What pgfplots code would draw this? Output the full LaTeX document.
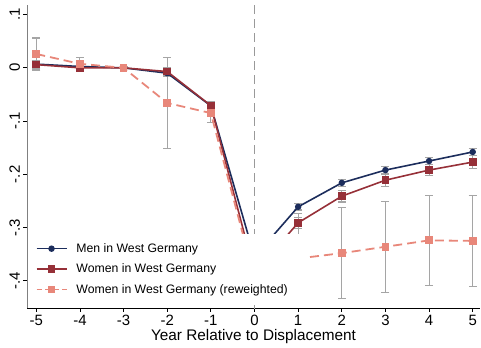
\documentclass[border=0pt]{standalone}
\usepackage{fontspec}
\setmainfont{Liberation Sans}
\usepackage{pgfplots}
\pgfplotsset{compat=1.18}
\definecolor{menc}{RGB}{28,45,92}
\definecolor{womc}{RGB}{150,48,56}
\definecolor{rwc}{RGB}{232,135,122}
\definecolor{errc}{RGB}{165,165,165}
\pgfplotsset{
    cibar/.style={forget plot, errc, only marks, mark=*, mark size=0pt,
        error bars/.cd, y dir=both, y explicit, error mark=|,
        error bar style={draw=errc, line width=1.1pt, solid},
        error mark options={draw=errc, mark size=4bp, line width=1.1pt, solid}},
}

\begin{document}
\begin{tikzpicture}
\begin{axis}[
    scale only axis, width=453bp, height=303bp,
    xmin=-5.213, xmax=5.167, ymin=-0.451, ymax=0.118,
    axis lines=left, axis line style={-},
    x axis line style={black, line width=0.9pt},
    y axis line style={gray, line width=0.9pt},
    tick align=outside, major tick length=3.5bp,
    tick style={black, line width=0.8pt},
    xtick={-5,...,5}, xticklabels={-5,-4,-3,-2,-1,0,1,2,3,4,5},
    ytick={-0.4,-0.3,-0.2,-0.1,0,0.1}, yticklabels={-.4,-.3,-.2,-.1,0,.1},
    ticklabel style={font=\fontsize{15}{17}\selectfont},
    yticklabel style={rotate=90, anchor=south},
    xlabel={Year Relative to Displacement},
    xlabel style={font=\fontsize{15.4}{18}\selectfont, at={(rel axis cs:0.5,0)}, anchor=center, yshift=-29bp},
    legend cell align=left,
    legend style={draw=none, fill=white, at={(0.012,0.2465)}, anchor=north west,
        font=\fontsize{12.3}{14}\selectfont, row sep=6bp, inner xsep=3bp, inner ysep=8bp},
    legend image code/.code={\draw[mark repeat=2,mark phase=2,#1] plot coordinates {(4bp,0bp) (19bp,0bp) (34bp,0bp)};
        \path (41bp,0bp);},
]
% confidence intervals
\addplot[cibar] coordinates {(-5,0.007) +- (0,0.007) (-4,0.0025) +- (0,0.005) (-3,0) +- (0,0.002) (-2,-0.010) +- (0,0.006)
    (-1,-0.0714) +- (0,0.005) (0,-0.355) +- (0,0.006) (1,-0.261) +- (0,0.006) (2,-0.216) +- (0,0.006)
    (3,-0.192) +- (0,0.006) (4,-0.175) +- (0,0.006) (5,-0.158) +- (0,0.007)};
\addplot[cibar] coordinates {(-5,0.006) +- (0,0.008) (-4,0.0) +- (0,0.007) (-3,0) +- (0,0.002) (-2,-0.007) +- (0,0.008)
    (-1,-0.071) +- (0,0.007) (0,-0.385) +- (0,0.01) (1,-0.291) +- (0,0.01) (2,-0.241) +- (0,0.011)
    (3,-0.211) +- (0,0.011) (4,-0.192) +- (0,0.011) (5,-0.177) +- (0,0.012)};
\addplot[cibar] coordinates {(-5,0.026) +- (0,0.03) (-4,0.0075) +- (0,0.012) (-3,0) +- (0,0.002) (-2,-0.066) +- (0,0.085)
    (-1,-0.085) +- (0,0.017) (0,-0.395) +- (0,0.08) (1,-0.358) +- (0,0.085) (2,-0.348) +- (0,0.085)
    (3,-0.336) +- (0,0.0855) (4,-0.324) +- (0,0.085) (5,-0.325) +- (0,0.085)};
% displacement year
\addplot[forget plot, gray!80, line width=0.9pt, dash pattern=on 9bp off 5bp] coordinates {(0,-0.451) (0,0.118)};

\addplot[menc, line width=1.6pt, mark=*, mark size=2.4bp] coordinates {
    (-5,0.007) (-4,0.0025) (-3,0) (-2,-0.010) (-1,-0.0714) (0,-0.355)
    (1,-0.261) (2,-0.216) (3,-0.192) (4,-0.175) (5,-0.158)};
\addlegendentry{Men in West Germany}
\addplot[womc, line width=1.6pt, mark=square*, mark size=3bp] coordinates {
    (-5,0.006) (-4,0.0) (-3,0) (-2,-0.007) (-1,-0.071) (0,-0.385)
    (1,-0.291) (2,-0.241) (3,-0.211) (4,-0.192) (5,-0.177)};
\addlegendentry{Women in West Germany}
\addplot[rwc, line width=1.8pt, dash pattern=on 9bp off 5bp, mark=square*, mark size=3bp, mark options={solid},
    legend image post style={dash pattern=on 5bp off 3.5bp}] coordinates {
    (-5,0.026) (-4,0.0075) (-3,0) (-2,-0.066) (-1,-0.085) (0,-0.395)
    (1,-0.358) (2,-0.348) (3,-0.336) (4,-0.324) (5,-0.325)};
\addlegendentry{Women in West Germany (reweighted)\rule{15bp}{0pt}}
\end{axis}
\pgfresetboundingbox
\path[use as bounding box] (-27bp,-40bp) rectangle (454bp,308bp);
\end{tikzpicture}
\end{document}
